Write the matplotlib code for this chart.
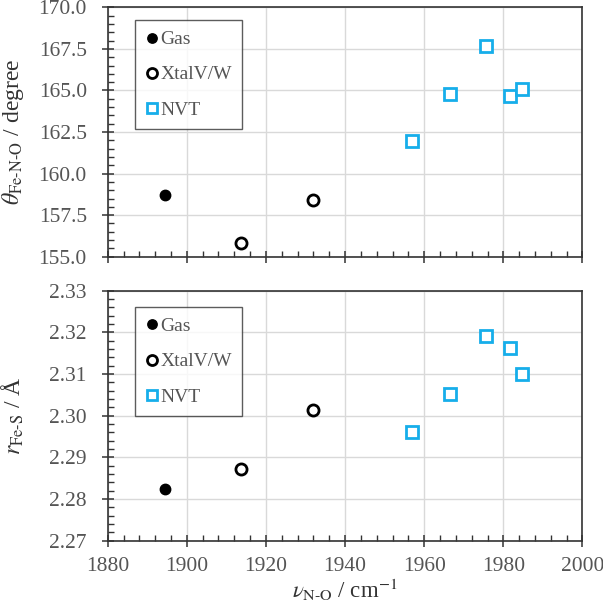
import matplotlib
matplotlib.use('Agg')
import matplotlib.pyplot as plt
from matplotlib.ticker import MultipleLocator, FormatStrFormatter

# data
gas_nu = [1894.6]
gas_theta = [158.7]
gas_r = [2.2823]

xtal_nu = [1913.7, 1932.0]
xtal_theta = [155.8, 158.4]
xtal_r = [2.2871, 2.3014]

nvt_nu = [1957.0, 1966.5, 1975.7, 1981.7, 1984.8]
nvt_theta = [161.95, 164.77, 167.67, 164.67, 165.09]
nvt_r = [2.2962, 2.3052, 2.3191, 2.3162, 2.3100]

plt.rcParams['font.family'] = ['Liberation Serif', 'DejaVu Serif']
plt.rcParams['mathtext.fontset'] = 'stix'

BLUE = '#16aeea'
TXT = '#555555'
AX = '#333333'

fig = plt.figure(figsize=(6.03, 6.10), dpi=100)
ax1 = fig.add_axes([0.1786, 0.5792, 0.7874, 0.4088])
ax2 = fig.add_axes([0.1786, 0.1136, 0.7874, 0.4098])


def style(ax):
    ax.set_xlim(1880, 2000)
    ax.xaxis.set_major_locator(MultipleLocator(20))
    ax.xaxis.set_minor_locator(MultipleLocator(4))
    ax.grid(True, which='major', color='#d9d9d9', linewidth=1.0)
    ax.set_axisbelow(True)
    for s in ax.spines.values():
        s.set_color(AX)
        s.set_linewidth(1.2)
    ax.tick_params(which='major', direction='inout', length=8, width=1.1,
                   color=AX, labelcolor=TXT, labelsize=15.5, pad=11)
    ax.tick_params(axis='x', which='major', pad=8)
    ax.tick_params(which='minor', direction='in', length=4, width=1.0, color=AX)
    ax.tick_params(top=False, right=False, which='both')


def points(ax, yg, yx, yn, top):
    ax.plot(gas_nu, yg, 'o', ms=7.5, color='black', label='Gas', zorder=3)
    ax.plot(xtal_nu, yx, 'o', ms=8, mfc='white', mec='black', mew=2.0,
            label='XtalV/W', zorder=3)
    ax.plot(nvt_nu, yn, 's', ms=8.5, mfc='white', mec=BLUE, mew=2.0,
            label='NVT', zorder=3)
    leg = ax.legend(loc='upper left', bbox_to_anchor=(0.0575, top),
                    borderaxespad=0, frameon=True, fancybox=False, fontsize=14,
                    handlelength=0.6, handletextpad=0.15, labelspacing=0.9,
                    borderpad=0.55, markerscale=0.9)
    leg.get_frame().set_edgecolor(AX)
    leg.get_frame().set_linewidth(1.0)
    for t in leg.get_texts():
        t.set_color(TXT)


# top panel
style(ax1)
points(ax1, gas_theta, xtal_theta, nvt_theta, 0.949)
ax1.set_ylim(155, 170)
ax1.yaxis.set_major_locator(MultipleLocator(2.5))
ax1.yaxis.set_minor_locator(MultipleLocator(0.5))
ax1.yaxis.set_major_formatter(FormatStrFormatter('%.1f'))
ax1.tick_params(labelbottom=False)
ax1.set_ylabel(r'$\theta_\text{Fe-N-O}$ / degree', fontsize=17, color=AX)
ax1.yaxis.set_label_coords(-0.172, 0.5)

# bottom panel
style(ax2)
points(ax2, gas_r, xtal_r, nvt_r, 0.935)
ax2.set_ylim(2.27, 2.33)
ax2.yaxis.set_major_locator(MultipleLocator(0.01))
ax2.yaxis.set_minor_locator(MultipleLocator(0.002))
ax2.yaxis.set_major_formatter(FormatStrFormatter('%.2f'))
ax2.set_ylabel(r'$r_\text{Fe-S}$ / Å', fontsize=17, color=AX)
ax2.yaxis.set_label_coords(-0.172, 0.5)
ax2.set_xlabel(r'$\nu_\text{N-O}$ / cm$^{-1}$', fontsize=16.5, color=AX, labelpad=0)

fig.savefig('out.png', dpi=100)
